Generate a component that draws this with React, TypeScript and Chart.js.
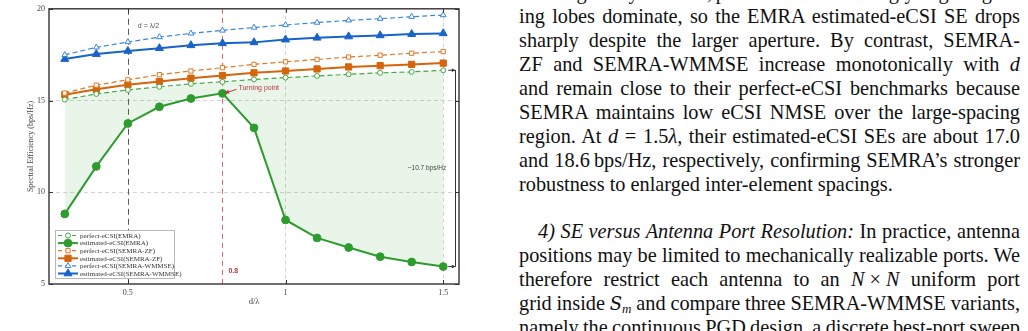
import React, { useEffect, useLayoutEffect, useRef } from 'react';
import { Chart, registerables } from 'chart.js';

Chart.register(...registerables);

// Element spacing d/λ and spectral efficiency (bps/Hz) of each scheme
const spacing = [0.3, 0.4, 0.5, 0.6, 0.7, 0.8, 0.9, 1.0, 1.1, 1.2, 1.3, 1.4, 1.5];
const perfectEMRA = [15.05, 15.36, 15.58, 15.75, 15.91, 16.02, 16.15, 16.25, 16.34, 16.43, 16.51, 16.56, 16.65];
const estimatedEMRA = [8.82, 11.41, 13.75, 14.66, 15.11, 15.39, 13.51, 8.49, 7.51, 6.99, 6.49, 6.2, 5.95];
const perfectZF = [15.41, 15.84, 16.13, 16.41, 16.61, 16.79, 16.97, 17.11, 17.24, 17.37, 17.47, 17.58, 17.67];
const estimatedZF = [15.32, 15.61, 15.86, 16.04, 16.22, 16.36, 16.51, 16.61, 16.72, 16.83, 16.9, 16.97, 17.04];
const perfectWMMSE = [17.49, 17.9, 18.19, 18.46, 18.66, 18.82, 18.98, 19.12, 19.25, 19.37, 19.46, 19.57, 19.66];
const estimatedWMMSE = [17.26, 17.53, 17.7, 17.85, 18.01, 18.12, 18.17, 18.32, 18.42, 18.49, 18.55, 18.62, 18.66];

const xTicks = [0.5, 1, 1.5];
const yTicks = [5, 10, 15, 20];
const halfWavelength = 0.5;

const SERIF = '"Liberation Serif", "Times New Roman", serif';
const SANS = '"Liberation Sans", Arial, sans-serif';

const GREEN = '#2e9b2e';
const GREEN_LIGHT = '#45a845';
const ORANGE = '#d5640c';
const ORANGE_LIGHT = '#e0792a';
const BLUE = '#1763c9';
const BLUE_LIGHT = '#3a86dc';

type Marker = 'circle' | 'rect' | 'triangle';
interface Series {
  label: string;
  data: number[];
  color: string;
  open: boolean;
  marker: Marker;
  radius: number;
}

const series: Series[] = [
  { label: 'perfect-eCSI(EMRA)', data: perfectEMRA, color: GREEN_LIGHT, open: true, marker: 'circle', radius: 2.5 },
  { label: 'estimated-eCSI(EMRA)', data: estimatedEMRA, color: GREEN, open: false, marker: 'circle', radius: 3.9 },
  { label: 'perfect-eCSI(SEMRA-ZF)', data: perfectZF, color: ORANGE_LIGHT, open: true, marker: 'rect', radius: 3 },
  { label: 'estimated-eCSI(SEMRA-ZF)', data: estimatedZF, color: ORANGE, open: false, marker: 'rect', radius: 4.4 },
  { label: 'perfect-eCSI(SEMRA-WMMSE)', data: perfectWMMSE, color: BLUE_LIGHT, open: true, marker: 'triangle', radius: 3.3 },
  { label: 'estimated-eCSI(SEMRA-WMMSE)', data: estimatedWMMSE, color: BLUE, open: false, marker: 'triangle', radius: 4.6 },
];

function drawMarker(ctx: CanvasRenderingContext2D, s: Series, x: number, y: number) {
  const r = s.radius;
  ctx.beginPath();
  if (s.marker === 'circle') {
    ctx.arc(x, y, r, 0, Math.PI * 2);
  } else if (s.marker === 'rect') {
    const h = r * Math.SQRT1_2;
    ctx.rect(x - h, y - h, 2 * h, 2 * h);
  } else {
    ctx.moveTo(x, y - r);
    ctx.lineTo(x + r * 0.866, y + r / 2);
    ctx.lineTo(x - r * 0.866, y + r / 2);
  }
  ctx.closePath();
  ctx.fillStyle = s.open ? '#ffffff' : s.color;
  ctx.fill();
  ctx.lineWidth = 1;
  ctx.setLineDash([]);
  ctx.strokeStyle = s.color;
  ctx.stroke();
}

function arrowHead(ctx: CanvasRenderingContext2D, x0: number, y0: number, x1: number, y1: number, size: number) {
  const ang = Math.atan2(y1 - y0, x1 - x0);
  ctx.beginPath();
  ctx.moveTo(x1, y1);
  ctx.lineTo(x1 - size * Math.cos(ang - 0.45), y1 - size * Math.sin(ang - 0.45));
  ctx.lineTo(x1 - size * Math.cos(ang + 0.45), y1 - size * Math.sin(ang + 0.45));
  ctx.closePath();
  ctx.fill();
}

const overlay = {
  id: 'overlay',
  beforeDatasetsDraw(chart: any) {
    const { ctx, chartArea: a, scales } = chart;
    const x = scales.x;
    const peak = spacing[estimatedEMRA.indexOf(Math.max(...estimatedEMRA))];
    ctx.save();
    ctx.lineWidth = 1;
    // d = λ/2 reference
    ctx.strokeStyle = '#5a5a5a';
    ctx.setLineDash([6, 4]);
    const xh = Math.round(x.getPixelForValue(halfWavelength)) + 0.5;
    ctx.beginPath();
    ctx.moveTo(xh, a.top);
    ctx.lineTo(xh, a.bottom);
    ctx.stroke();
    // turning-point spacing
    ctx.strokeStyle = '#d56a6a';
    ctx.setLineDash([5, 4]);
    const xp = Math.round(x.getPixelForValue(peak)) + 0.5;
    ctx.beginPath();
    ctx.moveTo(xp, a.top);
    ctx.lineTo(xp, a.bottom);
    ctx.stroke();
    ctx.restore();
  },
  afterDatasetsDraw(chart: any) {
    const { ctx, chartArea: a, scales } = chart;
    const x = scales.x;
    const y = scales.y;
    const peakIdx = estimatedEMRA.indexOf(Math.max(...estimatedEMRA));
    const peak = spacing[peakIdx];
    ctx.save();

    // frame and inward ticks
    ctx.setLineDash([]);
    ctx.strokeStyle = '#333333';
    ctx.lineWidth = 1.4;
    ctx.strokeRect(a.left, a.top, a.right - a.left, a.bottom - a.top);
    ctx.lineWidth = 1;
    ctx.beginPath();
    xTicks.forEach((v) => {
      const px = Math.round(x.getPixelForValue(v)) + 0.5;
      ctx.moveTo(px, a.bottom);
      ctx.lineTo(px, a.bottom - 4);
      ctx.moveTo(px, a.top);
      ctx.lineTo(px, a.top + 4);
    });
    yTicks.forEach((v) => {
      const py = Math.round(y.getPixelForValue(v)) + 0.5;
      ctx.moveTo(a.left, py);
      ctx.lineTo(a.left + 4, py);
      ctx.moveTo(a.right, py);
      ctx.lineTo(a.right - 4, py);
    });
    ctx.stroke();

    // d = λ/2 label
    ctx.fillStyle = '#555555';
    ctx.font = `7px ${SANS}`;
    ctx.textBaseline = 'middle';
    ctx.textAlign = 'left';
    ctx.fillText('d = \u03bb/2', x.getPixelForValue(halfWavelength) + 10, a.top + 17);

    // turning point annotation
    const tx = x.getPixelForValue(peak);
    const ty = y.getPixelForValue(estimatedEMRA[peakIdx]);
    ctx.fillStyle = '#b23a3a';
    ctx.strokeStyle = '#b23a3a';
    ctx.lineWidth = 1;
    ctx.font = `7px ${SANS}`;
    ctx.fillText('Turning point', tx + 16, ty - 5);
    ctx.beginPath();
    ctx.moveTo(tx + 14, ty - 4);
    ctx.lineTo(tx + 3, ty - 0.5);
    ctx.stroke();
    arrowHead(ctx, tx + 14, ty - 4, tx + 2, ty - 0.3, 5);

    // peak spacing label
    ctx.font = `bold 7px ${SANS}`;
    ctx.fillText(String(peak), tx + 6, a.bottom - 13);

    // gap bracket at the largest spacing
    const last = spacing.length - 1;
    const gap = perfectEMRA[last] - estimatedEMRA[last];
    const x15 = x.getPixelForValue(spacing[last]);
    const yTop = y.getPixelForValue(perfectEMRA[last]);
    const yBot = y.getPixelForValue(estimatedEMRA[last]);
    const xb = a.right - 3.5;
    ctx.strokeStyle = '#333333';
    ctx.fillStyle = '#333333';
    ctx.lineWidth = 1;
    ctx.beginPath();
    ctx.moveTo(xb, yTop);
    ctx.lineTo(xb, yBot);
    ctx.moveTo(x15 + 5, yTop);
    ctx.lineTo(xb, yTop);
    ctx.moveTo(x15 + 5, yBot);
    ctx.lineTo(xb, yBot);
    ctx.stroke();
    arrowHead(ctx, x15 + 5, yTop, xb, yTop, 4);
    arrowHead(ctx, x15 + 5, yBot, xb, yBot, 4);
    ctx.fillStyle = '#444444';
    ctx.font = `6.5px ${SANS}`;
    ctx.textAlign = 'right';
    ctx.fillText(`~${gap.toFixed(1)} bps/Hz`, x15 + 3, y.getPixelForValue((perfectEMRA[last] + estimatedEMRA[last]) / 2));

    // legend
    const lx = a.left + 6;
    const ly = a.bottom - 54;
    const lw = 119;
    const lh = 48;
    ctx.fillStyle = 'rgba(255,255,255,0.9)';
    ctx.fillRect(lx, ly, lw, lh);
    ctx.strokeStyle = '#b8b8b8';
    ctx.lineWidth = 1;
    ctx.strokeRect(lx + 0.5, ly + 0.5, lw, lh);
    ctx.textAlign = 'left';
    ctx.textBaseline = 'middle';
    ctx.font = `7px ${SERIF}`;
    series.forEach((s, i) => {
      const ry = ly + 5.5 + i * 7.6;
      ctx.strokeStyle = s.color;
      ctx.lineWidth = s.open ? 1.2 : 2;
      ctx.setLineDash(s.open ? [4, 3] : []);
      ctx.beginPath();
      ctx.moveTo(lx + 3, ry);
      ctx.lineTo(lx + 23, ry);
      ctx.stroke();
      drawMarker(ctx, s, lx + 13, ry);
      ctx.fillStyle = '#333333';
      ctx.fillText(s.label, lx + 25, ry + 0.5);
    });

    ctx.restore();
  },
};

function ChartPanel() {
  const ref = useRef<HTMLCanvasElement>(null);
  useEffect(() => {
    const datasets: any[] = series.map((s, i) => ({
      label: s.label,
      data: spacing.map((d, j) => ({ x: d, y: s.data[j] })),
      borderColor: s.color,
      borderWidth: s.open ? 1.2 : 2,
      borderDash: s.open ? [5, 3] : [],
      pointStyle: s.marker,
      pointRadius: s.radius,
      pointBorderWidth: 1,
      pointBorderColor: s.color,
      pointBackgroundColor: s.open ? '#ffffff' : s.color,
      backgroundColor: i === 1 ? 'rgba(60,160,60,0.11)' : 'transparent',
      fill: i === 1 ? { target: 0 } : false,
      tension: 0,
      order: i,
    }));
    const chart = new Chart(ref.current as HTMLCanvasElement, {
      type: 'line',
      data: { datasets },
      options: {
        animation: false,
        responsive: false,
        devicePixelRatio: 1,
        layout: { padding: { top: 5, right: 11, left: 0, bottom: 0 } },
        plugins: { legend: { display: false }, tooltip: { enabled: false } },
        scales: {
          x: {
            type: 'linear',
            min: 0.25,
            max: 1.55,
            afterBuildTicks: (s: any) => {
              s.ticks = xTicks.map((v) => ({ value: v }));
            },
            afterFit: (s: any) => {
              s.height = 47;
            },
            ticks: {
              padding: 4,
              color: '#444444',
              font: { family: SERIF, size: 8 },
              callback: (v: any) => String(v),
            },
            grid: {
              drawTicks: false,
              lineWidth: 1,
              color: (c: any) => (c.tick && c.tick.value === halfWavelength ? 'rgba(0,0,0,0)' : '#d4d4d4'),
            },
            border: { display: false, dash: [4, 3] },
            title: {
              display: true,
              text: 'd/\u03bb',
              color: '#444444',
              font: { family: SERIF, size: 8.5 },
              padding: { top: 0, bottom: 24 },
            },
          },
          y: {
            min: 5,
            max: 20,
            afterBuildTicks: (s: any) => {
              s.ticks = yTicks.map((v) => ({ value: v }));
            },
            afterFit: (s: any) => {
              s.width = 49;
            },
            ticks: {
              padding: 4,
              color: '#444444',
              font: { family: SERIF, size: 8 },
              callback: (v: any) => String(v),
            },
            grid: {
              drawTicks: false,
              lineWidth: 1,
              color: (c: any) =>
                c.tick && (c.tick.value === 5 || c.tick.value === 20) ? 'rgba(0,0,0,0)' : '#d4d4d4',
            },
            border: { display: false, dash: [4, 3] },
            title: {
              display: true,
              text: 'Spectral Efficiency (bps/Hz)',
              color: '#444444',
              font: { family: SERIF, size: 8 },
              padding: { top: 26.5, bottom: 0 },
            },
          },
        },
      },
      plugins: [overlay],
    });
    return () => chart.destroy();
  }, []);
  return (
    <canvas
      ref={ref}
      width={470}
      height={331}
      style={{ position: 'absolute', left: 0, top: 0, width: 470, height: 331 }}
    />
  );
}

const I = ({ children }: { children: React.ReactNode }) => <i>{children}</i>;

const LINE_H = 23.9;
const FONT_PX = 20.3;
const FIRST_TOP = 5.2 - LINE_H;
const COL_LEFT = 519;
const COL_WIDTH = 501;
const REL_SPACE = '\u2004';
const BIN_SPACE = '\u2005';

const bodyLines: { content: React.ReactNode; justify: boolean; indent?: number }[] = [
  { content: <>is enlarged beyond 0.8<I>λ</I>, pronounced and strongly aligned grat-</>, justify: true },
  { content: <>ing lobes dominate, so the EMRA estimated-eCSI SE drops</>, justify: true },
  { content: <>sharply despite the larger aperture. By contrast, SEMRA-</>, justify: true },
  { content: <>ZF and SEMRA-WMMSE increase monotonically with <I>d</I></>, justify: true },
  { content: <>and remain close to their perfect-eCSI benchmarks because</>, justify: true },
  { content: <>SEMRA maintains low eCSI NMSE over the large-spacing</>, justify: true },
  {
    content: (
      <>
        region. At <span><I>d</I>{REL_SPACE}={REL_SPACE}1.5<I>λ</I></span>, their estimated-eCSI SEs are about 17.0
      </>
    ),
    justify: true,
  },
  {
    content: (
      <>
        and <span>18.6{'\u2009'}bps/Hz</span>, respectively, confirming SEMRA’s stronger
      </>
    ),
    justify: true,
  },
  { content: <>robustness to enlarged inter-element spacings.</>, justify: false },
  { content: null, justify: false },
  {
    content: (
      <>
        <I>4) SE versus Antenna Port Resolution:</I> In practice, antenna
      </>
    ),
    justify: true,
    indent: 19,
  },
  { content: <>positions may be limited to mechanically realizable ports. We</>, justify: true },
  {
    content: (
      <>
        therefore restrict each antenna to an <span><I>N</I>{BIN_SPACE}×{BIN_SPACE}<I>N</I></span> uniform port
      </>
    ),
    justify: true,
  },
  {
    content: (
      <>
        grid inside{' '}
        <span>
          <span style={{ fontFamily: '"DejaVu Serif", serif', fontStyle: 'italic', fontSize: 18 }}>S</span>
          <sub style={{ fontSize: 13, fontStyle: 'italic', verticalAlign: '-3px', lineHeight: 0 }}>m</sub>
        </span>{' '}
        and compare three SEMRA-WMMSE variants,
      </>
    ),
    justify: true,
  },
  { content: <>namely the continuous PGD design, a discrete best-port sweep</>, justify: true },
];

function TextColumn() {
  const spans = useRef<(HTMLSpanElement | null)[]>([]);
  // Stretch or squeeze inter-word gaps so every justified line spans the column exactly.
  useLayoutEffect(() => {
    bodyLines.forEach((l, i) => {
      const el = spans.current[i];
      if (!el || !l.justify) return;
      el.style.wordSpacing = '0px';
      const natural = el.getBoundingClientRect().width;
      const target = COL_WIDTH - (l.indent || 0);
      const gaps = (el.textContent || '').split('').filter((c) => c === ' ').length;
      if (gaps > 0) el.style.wordSpacing = `${(target - natural) / gaps}px`;
    });
  }, []);
  return (
    <>
      {bodyLines.map((l, i) =>
        l.content === null ? null : (
          <div
            key={i}
            style={{
              position: 'absolute',
              left: COL_LEFT + (l.indent || 0),
              top: FIRST_TOP + i * LINE_H,
              width: COL_WIDTH - (l.indent || 0) + 40,
              height: LINE_H,
              lineHeight: `${LINE_H}px`,
              fontFamily: SERIF,
              fontSize: FONT_PX,
              color: '#111111',
              whiteSpace: 'nowrap',
            }}
          >
            <span
              ref={(node) => {
                spans.current[i] = node;
              }}
            >
              {l.content}
            </span>
          </div>
        )
      )}
    </>
  );
}

export default function App() {
  return (
    <div
      style={{
        position: 'absolute',
        left: 0,
        top: 0,
        width: 1028,
        height: 331,
        overflow: 'hidden',
        background: '#ffffff',
      }}
    >
      <ChartPanel />
      <TextColumn />
    </div>
  );
}
